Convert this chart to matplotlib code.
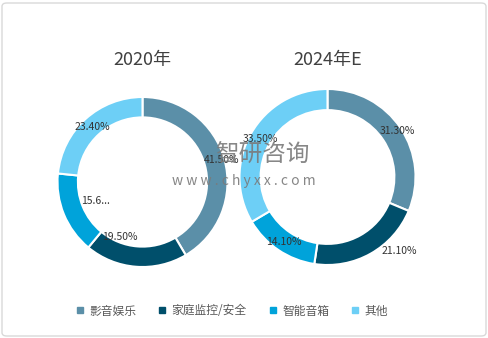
import numpy as np
import matplotlib.pyplot as plt
from matplotlib.patches import FancyBboxPatch
from matplotlib.lines import Line2D

plt.rcParams['font.family'] = ['Noto Sans CJK SC', 'DejaVu Sans']

categories = ['影音娱乐', '家庭监控/安全', '智能音箱', '其他']
colors = ['#5b8fa8', '#004f6b', '#00a3da', '#6dcff6']
years = ['2020年', '2024年E']
share_2020 = [41.5, 19.5, 15.6, 23.4]
share_2024 = [31.3, 21.1, 14.1, 33.5]
labels_2020 = ['41.50%', '19.50%', '15.6...', '23.40%']
labels_2024 = ['31.30%', '21.10%', '14.10%', '33.50%']

W, H = 489, 338
fig = plt.figure(figsize=(W / 100, H / 100), dpi=100)

# light frame around the chart
fig.patches.append(FancyBboxPatch((2 / W, 2 / H), 1 - 5 / W, 1 - 5 / H,
                                  boxstyle='round,pad=0,rounding_size=0.01',
                                  transform=fig.transFigure, fc='none',
                                  ec='#d9d9d9', lw=1, zorder=-1))


def donut(cx, cy, r, vals, labs, title, lab_r, lab_shift):
    # axes box of 220px, so 1 data unit = r pixels
    box = 220
    ax = fig.add_axes([(cx - box / 2) / W, (H - cy - box / 2) / H, box / W, box / H])
    ax.pie(vals, colors=colors, startangle=90, counterclock=False, radius=1,
           wedgeprops=dict(width=0.24, edgecolor='white', linewidth=1.5))
    lim = box / 2 / r
    ax.set_xlim(-lim, lim)
    ax.set_ylim(-lim, lim)
    ax.set_aspect('equal')
    ax.axis('off')
    start = 90.0
    for v, t, rr, sh in zip(vals, labs, lab_r, lab_shift):
        mid = np.deg2rad(start - v * 3.6 / 2 + sh)
        ax.text(rr * np.cos(mid), rr * np.sin(mid), t, ha='center', va='center',
                fontsize=7.5, color='#333333')
        start -= v * 3.6
    fig.text(cx / W, 1 - 60 / H, title, ha='center', va='center', fontsize=13, color='#404040')


donut(142.5, 182, 85, share_2020, labels_2020, years[0],
      [0.97, 0.7, 0.6, 0.88], [0, -18, 0, 0])
donut(327.5, 177, 88, share_2024, labels_2024, years[1],
      [0.95, 1.17, 0.89, 0.88], [0, 15, 0, 0])

# watermark
fig.text(262 / W, 1 - 155 / H, '智研咨询', ha='center', va='center', fontsize=17,
         color='#7a7a7a', alpha=0.9, zorder=10)
fig.text(244 / W, 1 - 181 / H, 'w w w . c h y x x . c o m', ha='center', va='center',
         fontsize=10, color='#7a7a7a', alpha=0.9, zorder=10)

handles = [Line2D([], [], marker='s', ls='', markersize=5, color=c) for c in colors]
fig.legend(handles, categories, loc='center', bbox_to_anchor=(232 / W, 1 - 311 / H),
           ncol=4, frameon=False, fontsize=8.5, handlelength=0.6, handletextpad=0.5,
           columnspacing=1.9, labelcolor='#595959')

fig.savefig('out.png', dpi=100)
